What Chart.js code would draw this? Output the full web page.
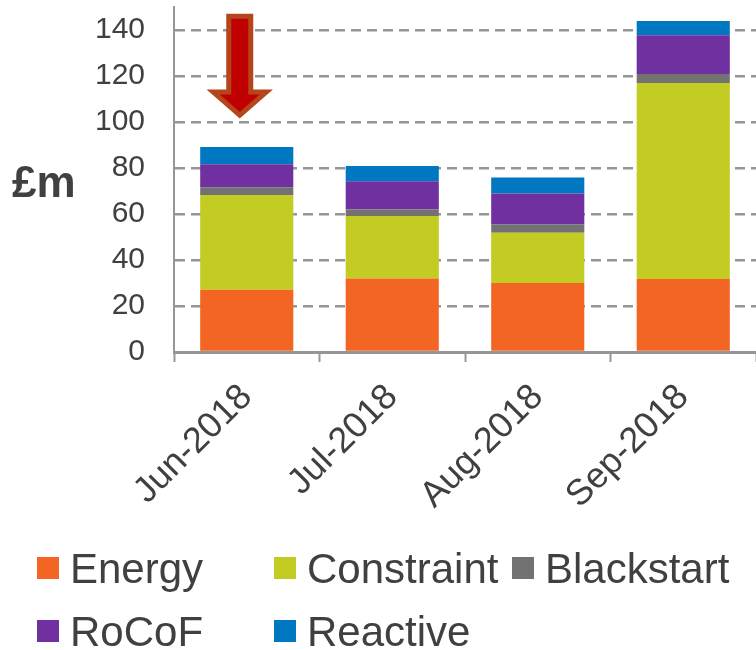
<!DOCTYPE html>
<html>
<head>
<meta charset="utf-8">
<script src="https://cdn.jsdelivr.net/npm/chart.js@4"></script>
<style>
  body { margin: 0; background: #fff; }
  #wrap { width: 756px; height: 650px; position: relative; }
</style>
</head>
<body>
<div id="wrap"><canvas id="chart" width="756" height="650"></canvas></div>
<script>
// data (£m)
const months = ["Jun-2018", "Jul-2018", "Aug-2018", "Sep-2018"];
const energy = [27.1, 32.0, 30.0, 31.7];
const constraint = [41.2, 27.1, 21.9, 85.3];
const blackstart = [3.3, 2.9, 3.6, 3.9];
const rocof = [10.0, 12.2, 13.4, 16.8];
const reactive = [7.5, 6.7, 7.0, 6.2];
const yTicks = [0, 20, 40, 60, 80, 100, 120, 140];

const textColor = "#404040";
const axisGrey = "#969696";
const fontFamily = "'Liberation Sans', Arial, sans-serif";

// arrow pointing at June, in y values
const arrow = { top: 146, headBase: 113, tip: 103 };

//Overlay: £m label, arrow, legend
const overlay = {
  id: "overlay",
  afterDraw(chart) {
    const ctx = chart.ctx;
    const x = chart.scales.x;
    const y = chart.scales.y;
    ctx.save();

    // £m
    ctx.fillStyle = textColor;
    ctx.font = "bold 44px " + fontFamily;
    ctx.textAlign = "left";
    ctx.textBaseline = "alphabetic";
    ctx.fillText("£m", 12, 197);

    // arrow
    const cx = x.getPixelForValue(0) - 7;
    const yTop = y.getPixelForValue(arrow.top);
    const yHead = y.getPixelForValue(arrow.headBase);
    const yTip = y.getPixelForValue(arrow.tip);
    ctx.beginPath();
    ctx.moveTo(cx - 11, yTop);
    ctx.lineTo(cx + 11, yTop);
    ctx.lineTo(cx + 11, yHead);
    ctx.lineTo(cx + 26.5, yHead);
    ctx.lineTo(cx, yTip);
    ctx.lineTo(cx - 26.5, yHead);
    ctx.lineTo(cx - 11, yHead);
    ctx.closePath();
    ctx.fillStyle = "#C00000";
    ctx.fill();
    ctx.lineWidth = 5;
    ctx.lineJoin = "miter";
    ctx.strokeStyle = "#B5461B";
    ctx.stroke();

    // legend
    const cols = [37, 274, 512];
    const rows = [557, 620];
    ctx.font = "42px " + fontFamily;
    chart.data.datasets.forEach((ds, i) => {
      const lx = cols[i % 3];
      const ly = rows[Math.floor(i / 3)];
      ctx.fillStyle = ds.backgroundColor;
      ctx.fillRect(lx, ly, 22, 22);
      ctx.fillStyle = textColor;
      ctx.fillText(ds.label, lx + 33, ly + 26);
    });
    ctx.restore();
  },
};

new Chart(document.getElementById("chart"), {
  type: "bar",
  data: {
    labels: months,
    datasets: [
      { label: "Energy", data: energy, backgroundColor: "#F26522" },
      { label: "Constraint", data: constraint, backgroundColor: "#C3CC23" },
      { label: "Blackstart", data: blackstart, backgroundColor: "#727272" },
      { label: "RoCoF", data: rocof, backgroundColor: "#7030A0" },
      { label: "Reactive", data: reactive, backgroundColor: "#0078C1" },
    ],
  },
  options: {
    responsive: false,
    animation: false,
    layout: { padding: { top: 7, bottom: 0, left: 0, right: 0 } },
    datasets: { bar: { categoryPercentage: 1, barPercentage: 0.64, borderWidth: 0 } },
    plugins: { legend: { display: false }, tooltip: { enabled: false } },
    scales: {
      x: {
        stacked: true,
        grid: {
          offset: true,
          drawOnChartArea: false,
          drawTicks: true,
          tickLength: 10,
          tickColor: axisGrey,
          tickWidth: 2,
        },
        border: { display: true, color: axisGrey, width: 3 },
        ticks: {
          color: textColor,
          font: { family: fontFamily, size: 36 },
          minRotation: 45,
          maxRotation: 45,
          padding: 14,
        },
        afterFit(scale) {
          scale.height = 298;
          scale.paddingLeft = 0;
          scale.paddingRight = 0;
        },
      },
      y: {
        stacked: true,
        min: 0,
        max: 150,
        afterBuildTicks(scale) {
          scale.ticks = yTicks.map((v) => ({ value: v }));
        },
        grid: {
          color: axisGrey,
          lineWidth: 2.5,
          drawTicks: false,
        },
        border: { display: true, color: axisGrey, width: 2, dash: [10, 6] },
        ticks: {
          color: textColor,
          font: { family: fontFamily, size: 30 },
          padding: 29,
        },
        afterFit(scale) {
          scale.width = 174;
          scale.paddingTop = 0;
          scale.paddingBottom = 0;
        },
      },
    },
  },
  plugins: [overlay],
});
</script>
</body>
</html>
